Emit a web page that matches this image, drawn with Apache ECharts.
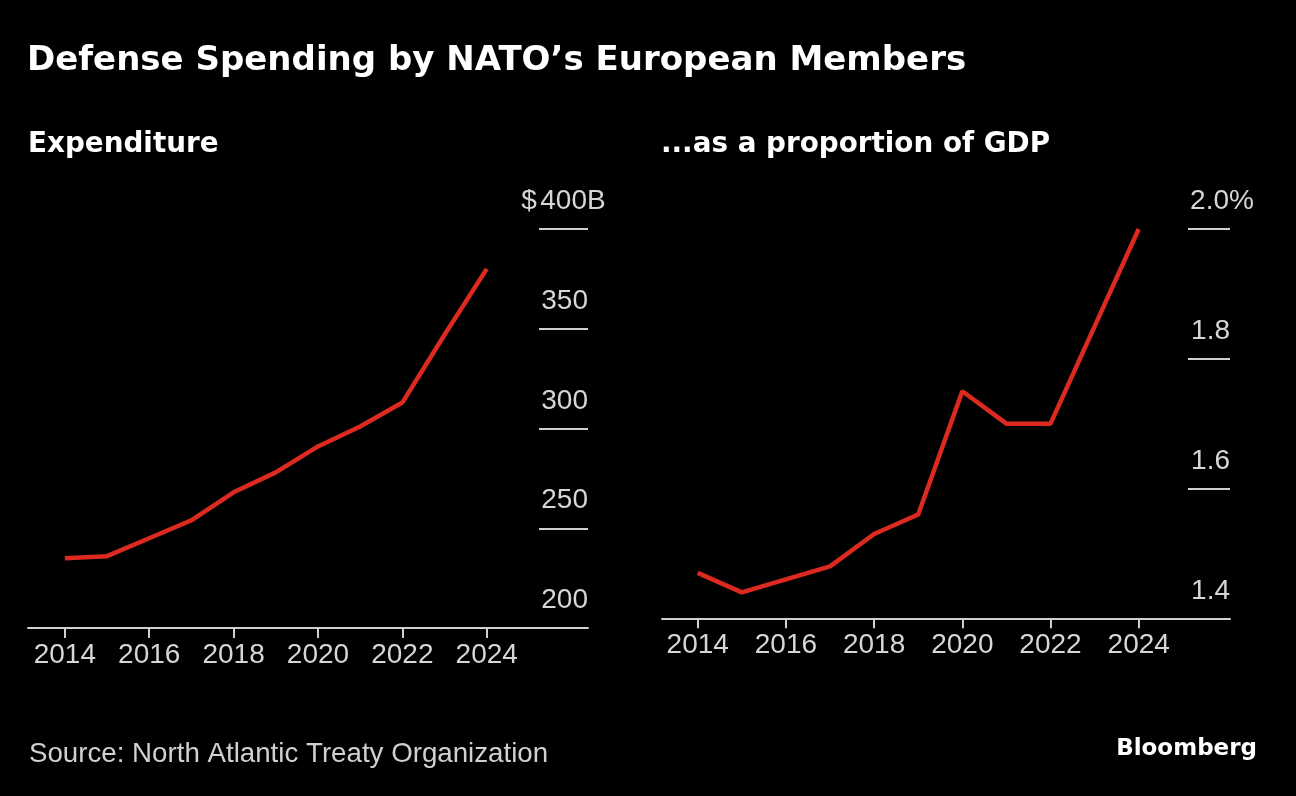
<!DOCTYPE html>
<html>
<head>
<meta charset="utf-8">
<script src="https://cdn.jsdelivr.net/npm/echarts@6/dist/echarts.min.js"></script>
<style>
  html, body { margin: 0; padding: 0; background: #000; }
  #chart { width: 1296px; height: 796px; }
</style>
</head>
<body>
<div id="chart"></div>
<script>
// ---- Data ----
const years = [2014, 2015, 2016, 2017, 2018, 2019, 2020, 2021, 2022, 2023, 2024];
const spendingB = [235, 236, 245, 254, 268, 278, 291, 301, 313, 347, 380];
const gdpShare = [1.47, 1.44, 1.46, 1.48, 1.53, 1.56, 1.75, 1.70, 1.70, 1.85, 2.00];
const yearTicks = [2014, 2016, 2018, 2020, 2022, 2024];
const spendTicks = [200, 250, 300, 350, 400];
const gdpTicks = [1.4, 1.6, 1.8, 2.0];

const titleText = 'Defense Spending by NATO\u2019s European Members';
const leftSubtitle = 'Expenditure';
const rightSubtitle = '...as a proportion of GDP';
const sourceText = 'Source: North Atlantic Treaty Organization';
const brandText = 'Bloomberg';

// ---- Styles ----
const RED = '#dc2a20';
const AXIS = '#d0d0d0';
const LABEL = '#d6d6d6';
const NUM_FONT = '"Liberation Sans", Arial, sans-serif';
const BOLD_FONT = '"DejaVu Sans", Verdana, sans-serif';

function xAxisCfg(gridIndex, min, max) {
  return {
    type: 'value', gridIndex, min, max,
    splitLine: { show: false },
    axisLine: { show: true, onZero: false, lineStyle: { color: AXIS, width: 2 } },
    axisTick: { show: true, customValues: yearTicks, length: 10, lineStyle: { color: AXIS, width: 2 } },
    axisLabel: {
      customValues: yearTicks, color: LABEL, fontFamily: NUM_FONT, fontSize: 28,
      lineHeight: 28, margin: 13, formatter: v => String(v)
    }
  };
}

function tok(extra) {
  return Object.assign({ fontFamily: NUM_FONT, fontSize: 28, color: LABEL, lineHeight: 55, align: 'left' }, extra || {});
}

function yAxisCfg(gridIndex, min, max, interval, tickLen, ticks, fmt) {
  return {
    type: 'value', gridIndex, position: 'right', min, max, interval,
    splitLine: { show: false },
    axisLine: { show: false },
    axisTick: { show: true, inside: true, length: tickLen, customValues: ticks, lineStyle: { color: AXIS, width: 2 } },
    axisLabel: {
      inside: true, margin: 0, color: LABEL, fontFamily: NUM_FONT, fontSize: 28,
      lineHeight: 55, verticalAlign: 'bottom', customValues: ticks,
      rich: { p: tok({ width: 19 }), n: tok(), s: tok({ width: 1 }) },
      formatter: v => fmt(v, max)
    }
  };
}

const option = {
  backgroundColor: '#000000',
  animation: false,
  title: [
    { text: titleText, left: 27, top: 44, padding: 0,
      textStyle: { color: '#ffffff', fontFamily: BOLD_FONT, fontWeight: 'bold', fontSize: 34, lineHeight: 34 } },
    { text: leftSubtitle, left: 28, top: 131, padding: 0,
      textStyle: { color: '#ffffff', fontFamily: BOLD_FONT, fontWeight: 'bold', fontSize: 27.8, lineHeight: 28 } },
    { text: rightSubtitle, left: 661, top: 131, padding: 0,
      textStyle: { color: '#ffffff', fontFamily: BOLD_FONT, fontWeight: 'bold', fontSize: 27.8, lineHeight: 28 } },
    { text: sourceText, left: 29, top: 740, padding: 0,
      textStyle: { color: '#d0d0d0', fontFamily: NUM_FONT, fontWeight: 'normal', fontSize: 27.7, lineHeight: 28 } },
    { text: brandText, right: 39, top: 738, padding: 0,
      textStyle: { color: '#ffffff', fontFamily: BOLD_FONT, fontWeight: 'bold', fontSize: 23, lineHeight: 23 } }
  ],
  grid: [
    { left: 28, right: 1296 - 588, top: 229, bottom: 796 - 628 },
    { left: 662, right: 1296 - 1230, top: 229, bottom: 796 - 618.3 }
  ],
  xAxis: [
    xAxisCfg(0, 2013.127, 2026.4),
    xAxisCfg(1, 2013.19, 2026.07)
  ],
  yAxis: [
    yAxisCfg(0, 200, 400, 50, 49, spendTicks,
      (v, max) => v === max ? '{p|$}{n|' + v + '}{s|B}' : '{n|' + v + '}'),
    yAxisCfg(1, 1.4, 2.0, 0.2, 42, gdpTicks, (v, max) => {
      const t = (Math.round(v * 10) / 10).toFixed(1);
      return Math.abs(v - max) < 1e-9 ? '{n|' + t + '}{s|%}' : '{n|' + t + '}';
    })
  ],
  series: [
    {
      type: 'line', xAxisIndex: 0, yAxisIndex: 0, showSymbol: false, silent: true,
      lineStyle: { color: RED, width: 4.5 },
      data: years.map((y, i) => [y, spendingB[i]])
    },
    {
      type: 'line', xAxisIndex: 1, yAxisIndex: 1, showSymbol: false, silent: true,
      lineStyle: { color: RED, width: 4.5 },
      data: years.map((y, i) => [y, gdpShare[i]])
    }
  ]
};

const chart = echarts.init(document.getElementById('chart'), null, { renderer: 'canvas' });
chart.setOption(option);
</script>
</body>
</html>
